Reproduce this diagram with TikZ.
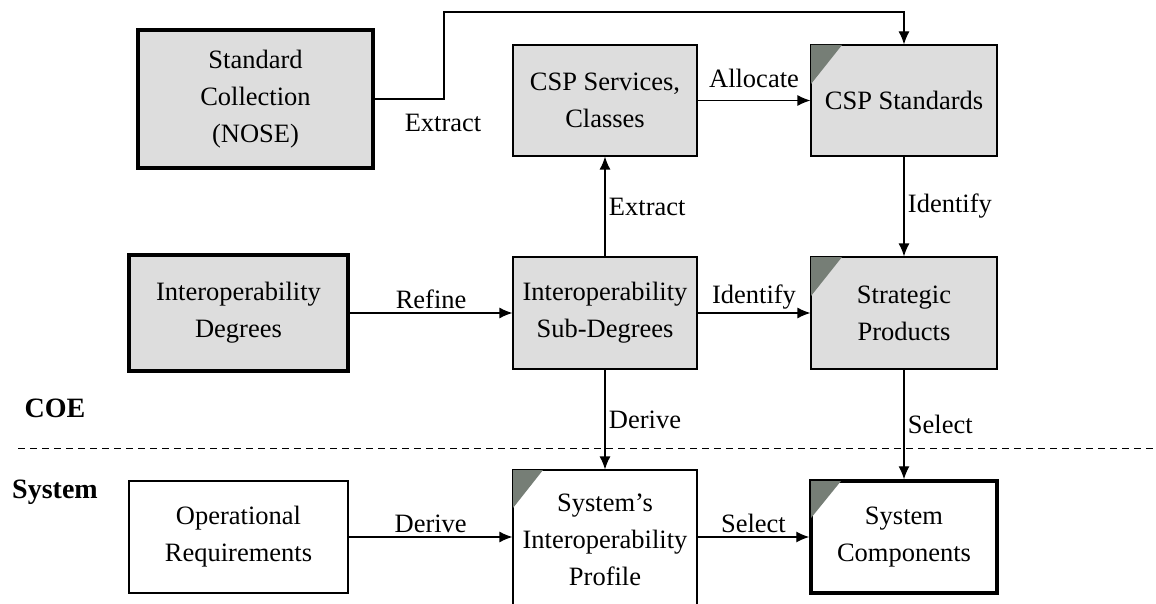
\documentclass[tikz,border=0pt]{standalone}
\usepackage{fontspec}
\setmainfont{Liberation Serif}
\usetikzlibrary{arrows.meta}
\definecolor{boxgray}{RGB}{221,221,221}
\definecolor{tabgray}{RGB}{118,126,118}
\tikzset{
  box/.style={draw,line width=1.2pt,align=center,inner sep=2pt},
  gbox/.style={box,fill=boxgray},
  wbox/.style={box,fill=white},
  dick/.style={line width=3.5pt},
  nyil/.style={line width=1.2pt,-{Latex[length=13pt,width=11pt]}},
  tab/.style={fill=tabgray},
  lvl/.style={font=\fontsize{28}{32}\selectfont\bfseries},
}

\begin{document}
\begin{tikzpicture}[x=1pt,y=-1pt,font=\fontsize{26.5}{37}\selectfont]
  \useasboundingbox (0,0) rectangle (1156,604);
  \clip (0,0) rectangle (1156,604);

  % top row
  \node[gbox,dick,minimum width=235,minimum height=138] (std) at (255.5,99)
    {Standard\\Collection\\(NOSE)};
  \node[gbox,minimum width=184,minimum height=111] (srv) at (605,100.5)
    {CSP Services,\\Classes};
  \node[gbox,minimum width=186,minimum height=111] (csp) at (904,100.5)
    {CSP Standards};

  % middle row
  \node[gbox,dick,minimum width=219,minimum height=116] (deg) at (238.5,313)
    {Interoperability\\Degrees};
  \node[gbox,minimum width=184,minimum height=112] (sub) at (605,313)
    {Interoperability\\Sub-Degrees};
  \node[gbox,minimum width=186,minimum height=112] (prod) at (904,313)
    {Strategic\\Products};

  % bottom row
  \node[wbox,line width=2pt,minimum width=219,minimum height=112] (opr) at (238.5,537)
    {Operational\\Requirements};
  \node[wbox,minimum width=184,minimum height=140] (prof) at (605,540)
    {System’s\\Interoperability\\Profile};
  \node[wbox,dick,minimum width=186,minimum height=112] (comp) at (904,537)
    {System\\Components};

  % dark corner tabs
  \fill[tab] ([shift={(0.6,0.6)}]csp.north west) -- ++(31,0) -- ++(-31,39) -- cycle;
  \fill[tab] ([shift={(0.6,0.6)}]prod.north west) -- ++(31,0) -- ++(-31,39) -- cycle;
  \fill[tab] ([shift={(0.6,0.6)}]prof.north west) -- ++(30,0) -- ++(-30,38) -- cycle;
  \fill[tab] ([shift={(1.75,1.75)}]comp.north west) -- ++(30,0) -- ++(-30,37) -- cycle;

  % level separator
  \coordinate (sepl) at (18,448);
  \coordinate (sepr) at (1156,448);
  \draw[line width=1pt,dash pattern=on 7pt off 5pt] (sepl) -- (sepr);
  \node[lvl] (coe) at (55,408) {COE};
  \node[lvl] (sys) at (55,492) {System};

  % connectors
  \coordinate (bend) at (444,12);
  \draw[nyil] (std.east) -| (bend) -| (csp.north);
  \node (lextr) at (443,123) {Extract};
  \draw[nyil] (srv.east) -- (csp.west)
    node[midway,above,yshift=9pt] {Allocate};
  \draw[nyil] (sub.north) -- (srv.south) node[midway,right] {Extract};
  \draw[nyil] (csp.south) -- (prod.north) node[midway,right] {Identify};
  \draw[nyil] (deg.east) -- (sub.west) node[midway,above] {Refine};
  \draw[nyil] (sub.east) -- (prod.west) node[midway,above] {Identify};
  \draw[nyil] (sub.south) -- (prof.north) node[midway,right] {Derive};
  \draw[nyil] (prod.south) -- (comp.north) node[midway,right] {Select};
  \draw[nyil] (opr.east) -- (prof.west |- opr.east) node[midway,above] {Derive};
  \draw[nyil] (prof.east |- comp.west) -- (comp.west) node[midway,above] {Select};
\end{tikzpicture}
\end{document}
